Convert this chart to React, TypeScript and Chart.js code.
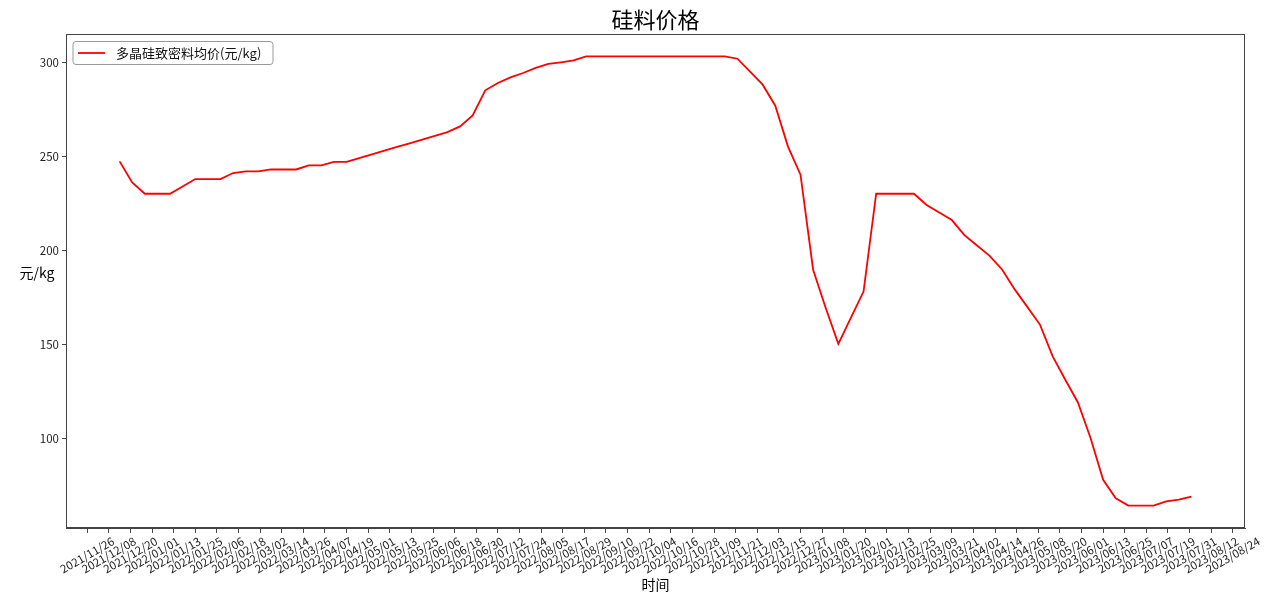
import { useEffect, useRef } from 'react';
import { Chart, registerables } from 'chart.js';

Chart.register(...registerables);

const titleText = '硅料价格';
const seriesName = '多晶硅致密料均价(元/kg)';
const xTitle = '时间';
const yTitle = '元/kg';

const dates = [
  '2021-12-14', '2021-12-21', '2021-12-28',
  '2022-01-04', '2022-01-11', '2022-01-18', '2022-01-25',
  '2022-02-01', '2022-02-08', '2022-02-15', '2022-02-22',
  '2022-03-01', '2022-03-08', '2022-03-15', '2022-03-22', '2022-03-29',
  '2022-04-05', '2022-04-12', '2022-04-19', '2022-04-26',
  '2022-05-03', '2022-05-10', '2022-05-17', '2022-05-24', '2022-05-31',
  '2022-06-07', '2022-06-14', '2022-06-21', '2022-06-28',
  '2022-07-05', '2022-07-12', '2022-07-19', '2022-07-26',
  '2022-08-02', '2022-08-09', '2022-08-16', '2022-08-23', '2022-08-30',
  '2022-09-06', '2022-09-13', '2022-09-20', '2022-09-27',
  '2022-10-04', '2022-10-11', '2022-10-18', '2022-10-25',
  '2022-11-01', '2022-11-08', '2022-11-15', '2022-11-22', '2022-11-29',
  '2022-12-06', '2022-12-13', '2022-12-20', '2022-12-27',
  '2023-01-03', '2023-01-10', '2023-01-17', '2023-01-24', '2023-01-31',
  '2023-02-07', '2023-02-14', '2023-02-21', '2023-02-28',
  '2023-03-07', '2023-03-14', '2023-03-21', '2023-03-28',
  '2023-04-04', '2023-04-11', '2023-04-18', '2023-04-25',
  '2023-05-02', '2023-05-09', '2023-05-16', '2023-05-23', '2023-05-30',
  '2023-06-06', '2023-06-13', '2023-06-20', '2023-06-27',
  '2023-07-04', '2023-07-11', '2023-07-18', '2023-07-25',
  '2023-08-01',
];

const prices = [
  247.5, 236.3, 230.3,
  230.3, 230.3, 234.2, 238.1,
  238.1, 238.1, 241.3, 242.2,
  242.2, 243.2, 243.2, 243.2, 245.4,
  245.4, 247.2, 247.2, 249.2,
  251.2, 253.2, 255.2, 257.1, 259.1,
  261.1, 263.1, 266.1, 272.0,
  285.3, 289.2, 292.2, 294.5,
  297.2, 299.3, 300.2, 301.2, 303.3,
  303.3, 303.3, 303.3, 303.3,
  303.3, 303.3, 303.3, 303.3,
  303.3, 303.3, 303.3, 302.1, 295.2,
  288.3, 277.1, 255.5, 240.4,
  189.9, 169.5, 150.5, 164.4, 178.3,
  230.3, 230.3, 230.3, 230.3,
  224.3, 220.3, 216.3, 208.3,
  202.8, 197.3, 189.9, 179.3,
  170.0, 160.6, 143.8, 131.4, 119.3,
  100.4, 78.2, 68.4, 64.5,
  64.5, 64.5, 66.7, 67.6,
  69.3,
];

const tickLabels = [
  '2021/11/26', '2021/12/08', '2021/12/20',
  '2022/01/01', '2022/01/13', '2022/01/25', '2022/02/06', '2022/02/18',
  '2022/03/02', '2022/03/14', '2022/03/26', '2022/04/07', '2022/04/19',
  '2022/05/01', '2022/05/13', '2022/05/25', '2022/06/06', '2022/06/18',
  '2022/06/30', '2022/07/12', '2022/07/24', '2022/08/05', '2022/08/17',
  '2022/08/29', '2022/09/10', '2022/09/22', '2022/10/04', '2022/10/16',
  '2022/10/28', '2022/11/09', '2022/11/21', '2022/12/03', '2022/12/15',
  '2022/12/27',
  '2023/01/08', '2023/01/20', '2023/02/01', '2023/02/13', '2023/02/25',
  '2023/03/09', '2023/03/21', '2023/04/02', '2023/04/14', '2023/04/26',
  '2023/05/08', '2023/05/20', '2023/06/01', '2023/06/13', '2023/06/25',
  '2023/07/07', '2023/07/19', '2023/07/31', '2023/08/12', '2023/08/24',
];

const yTicks = [100, 150, 200, 250, 300];

const FONT = '"Noto Sans CJK SC", "DejaVu Sans", sans-serif';
const TICK_SIZE = 11.5;

function toDay(s: string): number {
  const [y, m, d] = s.split(/[-/]/).map(Number);
  return Date.UTC(y, m - 1, d) / 86400000;
}

const xVals = dates.map(toDay);
const xFirst = Math.min(...xVals);
const xLast = Math.max(...xVals);
const xPad = (xLast - xFirst) * 0.05;
const yLo = Math.min(...prices);
const yHi = Math.max(...prices);
const yPad = (yHi - yLo) * 0.05;

const decor = {
  id: 'decor',
  afterDraw(chart: any) {
    const { ctx, chartArea: a, scales } = chart;
    ctx.save();
    ctx.strokeStyle = '#444';
    ctx.lineWidth = 1;
    ctx.strokeRect(
      Math.round(a.left) + 0.5,
      Math.round(a.top) + 0.5,
      Math.round(a.right - a.left) - 1,
      Math.round(a.bottom - a.top) - 1
    );

    ctx.fillStyle = '#222';
    ctx.font = `${TICK_SIZE}px ${FONT}`;
    ctx.textAlign = 'center';
    ctx.textBaseline = 'middle';
    const ang = Math.PI / 6;
    for (const lbl of tickLabels) {
      const x = scales.x.getPixelForValue(toDay(lbl));
      const w = ctx.measureText(lbl).width;
      const h = TICK_SIZE;
      const H = w * Math.sin(ang) + h * Math.cos(ang);
      ctx.save();
      ctx.translate(x, a.bottom + 7 + H / 2);
      ctx.rotate(-ang);
      ctx.fillText(lbl, 0, 0);
      ctx.restore();
    }

    ctx.fillStyle = '#000';
    ctx.font = `22px ${FONT}`;
    ctx.textAlign = 'center';
    ctx.textBaseline = 'middle';
    ctx.fillText(titleText, (a.left + a.right) / 2, 20);

    ctx.font = `14px ${FONT}`;
    ctx.fillText(xTitle, (a.left + a.right) / 2, 585);
    ctx.fillText(yTitle, 37, 273);

    const lx = 73, ly = 41.5, lw = 200, lh = 23;
    ctx.beginPath();
    if (ctx.roundRect) ctx.roundRect(lx, ly, lw, lh, 3);
    else ctx.rect(lx, ly, lw, lh);
    ctx.fillStyle = '#fff';
    ctx.fill();
    ctx.strokeStyle = '#999';
    ctx.lineWidth = 1;
    ctx.stroke();
    ctx.beginPath();
    ctx.moveTo(78, 53);
    ctx.lineTo(105, 53);
    ctx.strokeStyle = 'red';
    ctx.lineWidth = 1.8;
    ctx.stroke();
    ctx.fillStyle = '#111';
    ctx.font = `13px ${FONT}`;
    ctx.textAlign = 'left';
    ctx.fillText(seriesName, 116, 53.5);
    ctx.restore();
  },
};

export default function App() {
  const ref = useRef<HTMLCanvasElement | null>(null);

  useEffect(() => {
    document.body.style.margin = '0';
    if (!ref.current) return;
    const chart = new Chart(ref.current, {
      type: 'line',
      data: {
        datasets: [
          {
            label: seriesName,
            data: xVals.map((x, i) => ({ x, y: prices[i] })),
            borderColor: 'red',
            backgroundColor: 'red',
            borderWidth: 1.8,
            pointRadius: 0,
            tension: 0,
            fill: false,
          },
        ],
      },
      options: {
        animation: false,
        responsive: false,
        devicePixelRatio: 1,
        layout: { padding: { top: 34, right: 35, left: 0, bottom: 0 } },
        plugins: {
          legend: { display: false },
          title: { display: false },
          tooltip: { enabled: false },
        },
        scales: {
          x: {
            type: 'linear',
            min: xFirst - xPad,
            max: xLast + xPad,
            afterBuildTicks: (scale: any) => {
              scale.ticks = tickLabels.map((l) => ({ value: toDay(l) }));
            },
            afterFit: (scale: any) => {
              scale.height = 83;
            },
            ticks: { display: false },
            grid: { drawOnChartArea: false, color: '#444', tickLength: 5 },
            border: { color: '#444' },
          },
          y: {
            type: 'linear',
            min: yLo - yPad,
            max: yHi + yPad,
            afterBuildTicks: (scale: any) => {
              scale.ticks = yTicks.map((v) => ({ value: v }));
            },
            afterFit: (scale: any) => {
              scale.width = 66;
            },
            ticks: {
              font: { family: FONT, size: TICK_SIZE },
              color: '#222',
              padding: 3,
            },
            grid: { drawOnChartArea: false, color: '#444', tickLength: 4 },
            border: { color: '#444' },
          },
        },
      },
      plugins: [decor],
    });
    return () => chart.destroy();
  }, []);

  return (
    <div style={{ width: 1280, height: 611 }}>
      <canvas ref={ref} width={1280} height={611} style={{ display: 'block' }} />
    </div>
  );
}
